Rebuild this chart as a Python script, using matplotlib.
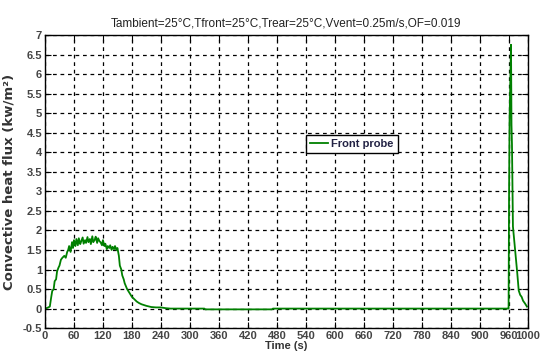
import numpy as np
import matplotlib
matplotlib.use('Agg')
from matplotlib import pyplot as plt

plt.rcParams['font.family'] = ['Liberation Sans Narrow', 'Liberation Sans', 'DejaVu Sans']

# time (s) and convective heat flux (kW/m2)
time = [0, 5, 10, 13, 15, 18, 20, 23, 25, 28, 30, 33, 36, 40, 43, 46, 48, 50, 53, 56,
        58, 60, 63, 65, 68, 70, 73, 75, 78, 80, 83, 85, 88, 90, 93, 95, 98, 100, 103, 105,
        108, 110, 113, 115, 118, 120, 123, 125, 128, 130, 133, 135, 138, 140, 143, 145, 148, 150, 153, 155,
        158, 160, 163, 165, 170, 175, 180, 185, 190, 195, 200, 210, 220, 230, 240, 250, 260, 280, 300, 330,
        332, 400, 470, 472, 600, 800, 958, 960, 961, 962, 963, 965, 966, 967, 969, 972, 975, 978, 981, 984,
        987, 990, 994, 998]
flux = [0, 0.02, 0.05, 0.3, 0.45, 0.5, 0.7, 0.75, 0.95, 1.05, 1.1, 1.25, 1.3, 1.35, 1.3, 1.45, 1.5, 1.6, 1.45, 1.7,
        1.55, 1.75, 1.6, 1.78, 1.62, 1.8, 1.65, 1.72, 1.82, 1.66, 1.75, 1.68, 1.83, 1.7, 1.78, 1.65, 1.85, 1.7, 1.76, 1.84,
        1.68, 1.8, 1.72, 1.7, 1.62, 1.75, 1.6, 1.66, 1.52, 1.6, 1.55, 1.62, 1.5, 1.58, 1.52, 1.6, 1.5, 1.55, 1.35, 1.1,
        1.0, 0.85, 0.75, 0.65, 0.5, 0.4, 0.3, 0.24, 0.18, 0.14, 0.11, 0.07, 0.04, 0.03, 0.03, 0.01, 0.0, 0.0, 0.0, 0.0,
        -0.02, -0.02, -0.02, 0.0, 0.0, 0.0, 0.0, 0.0, 3.0, 4.8, 5.5, 6.75, 4.7, 4.2, 2.1, 1.7, 1.3, 0.9, 0.46, 0.35,
        0.3, 0.2, 0.13, 0.05]

xticks = [0, 60, 120, 180, 240, 300, 360, 420, 480, 540, 600, 660, 720, 780, 840, 900, 960, 1000]
yticks = [-0.5, 0, 0.5, 1, 1.5, 2, 2.5, 3, 3.5, 4, 4.5, 5, 5.5, 6, 6.5, 7]
ytick_labels = ['-0.5', '0', '0.5', '1', '1.5', '2', '2.5', '3', '3.5', '4', '4.5', '5', '5.5', '6', '6.5', '7']

fig = plt.figure(figsize=(5.42, 3.59), dpi=100)
ax = fig.add_axes([0.083, 0.086, 0.891, 0.8165])
ax.plot(time, flux, color=(0, 0.5, 0), lw=1.3, label='Front probe')

ax.set_xlim(0, 1000)
ax.set_ylim(-0.5, 7)
ax.set_xticks(xticks)
ax.set_xticklabels([str(t) for t in xticks], fontweight='bold')
ax.set_yticks(yticks)
ax.set_yticklabels(ytick_labels, fontweight='bold')
ax.tick_params(direction='in', top=True, right=True, length=4, labelsize=8,
               colors='black', labelcolor='#444444', pad=2)
for s in ax.spines.values():
    s.set_linewidth(1.0)
ax.grid(True, color='black', linestyle=(0, (3, 3)), linewidth=0.9)

ax.set_title('Tambient=25°C,Tfront=25°C,Trear=25°C,Vvent=0.25m/s,OF=0.019',
             fontsize=8.5, color='#222222', pad=6)
ax.set_xlabel('Time (s)', fontsize=8, labelpad=0, color='#333333', fontweight='bold')
ax.set_ylabel('Convective heat flux (kw/m²)', fontsize=9.5, labelpad=5, color='#333333',
              fontweight='bold', family=['DejaVu Sans'])

leg = ax.legend(loc='center', bbox_to_anchor=(0.636, 0.628), fontsize=8, fancybox=False,
                framealpha=1, edgecolor='black', handlelength=1.6, borderpad=0.4,
                handletextpad=0.3)
leg.get_frame().set_linewidth(1.0)
for txt in leg.get_texts():
    txt.set_color('#222244')
    txt.set_fontweight('bold')

fig.savefig('out.png', dpi=100)
